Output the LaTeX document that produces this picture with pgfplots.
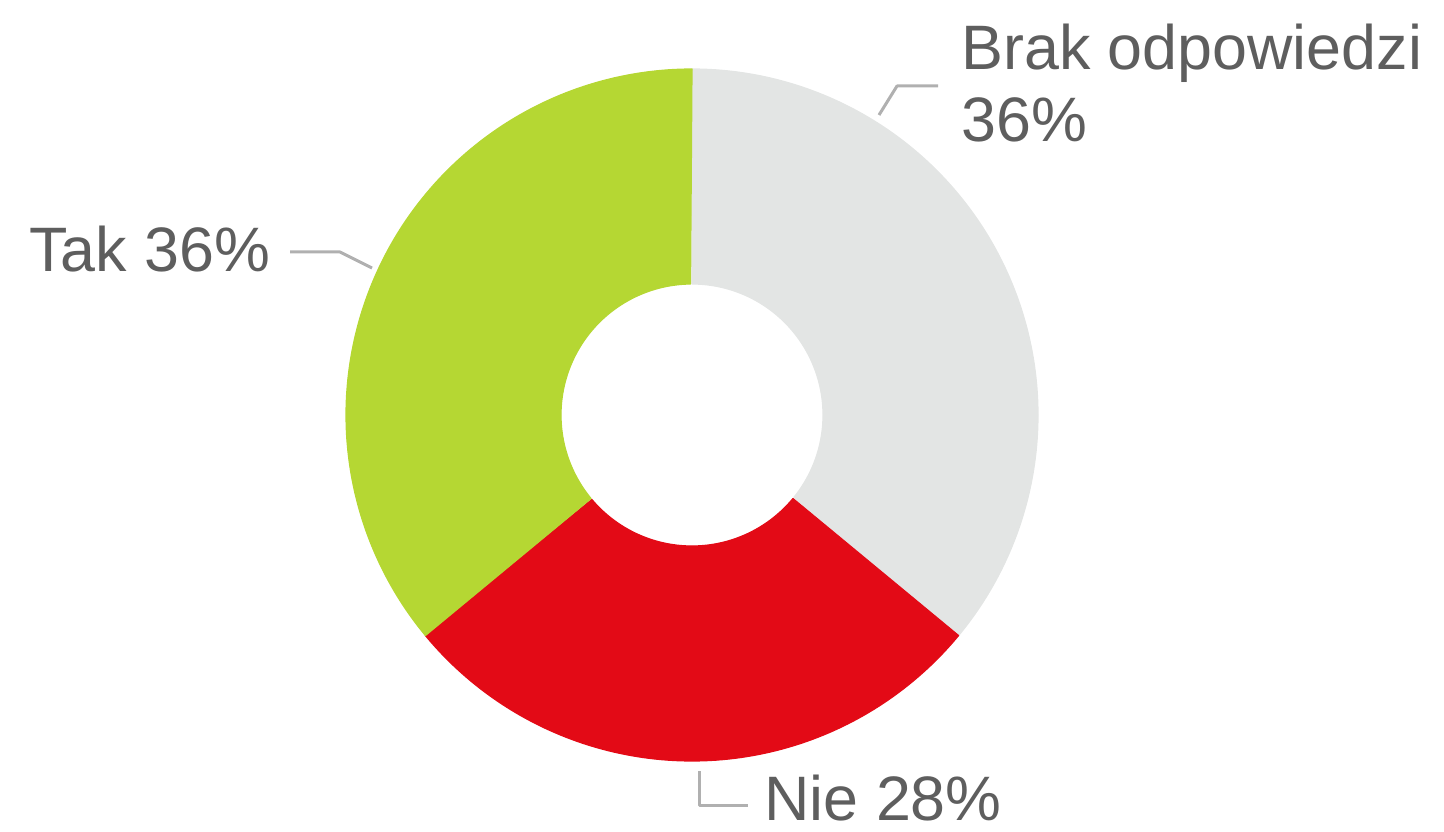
\documentclass[border=0pt]{standalone}
\usepackage{pgfplots}
\usepackage{pgfplotstable}
\pgfplotsset{compat=1.18}
\usepackage{fontspec}
\setmainfont{Liberation Sans}
\definecolor{cBrak}{HTML}{E3E5E4}
\definecolor{cNie}{HTML}{E30A16}
\definecolor{cTak}{HTML}{B5D733}
\definecolor{cText}{HTML}{5E5E5E}
\definecolor{cLead}{HTML}{B0B0B0}

\pgfplotstableread{
label value
Brak 36
Nie 28
Tak 36
}\shares

\pgfplotstablegetelem{0}{value}\of\shares \let\vBrak\pgfplotsretval
\pgfplotstablegetelem{1}{value}\of\shares \let\vNie\pgfplotsretval
\pgfplotstablegetelem{2}{value}\of\shares \let\vTak\pgfplotsretval

\pgfmathsetmacro{\aA}{90}
\pgfmathsetmacro{\aB}{90-3.6*\vBrak}
\pgfmathsetmacro{\aC}{\aB-3.6*\vNie}
\pgfmathsetmacro{\aD}{\aC-3.6*\vTak}

\def\cx{692}
\def\cy{416}
\def\Ro{346}
\def\Ri{131}

% ring segment from angle #1 to #2
\newcommand{\ring}[3]{%
  \addplot[fill=#3, draw=#3, line width=0.6pt, line join=round, domain=0:2, samples=401, variable=\t]
  ({\cx+ifthenelse(\t<=1, \Ro*cos(#1+(#2-#1)*\t), \Ri*cos(#2-(#2-#1)*(\t-1)))},
   {\cy+ifthenelse(\t<=1, \Ro*sin(#1+(#2-#1)*\t), \Ri*sin(#2-(#2-#1)*(\t-1)))}) -- cycle;
}

\begin{document}
\begin{tikzpicture}
\begin{axis}[
  x=0.5pt, y=0.5pt,
  xmin=0, xmax=1444, ymin=0, ymax=831,
  hide axis, clip=false,
  scale only axis,
]
\path[draw=none] (axis cs:0,0) rectangle (axis cs:1444,831);
\ring{\aA}{\aB}{cBrak}
\ring{\aB}{\aC}{cNie}
\ring{\aC}{\aD}{cTak}

\addplot[cLead, line width=1.5pt, line join=round] coordinates {(938,745) (897,745) (879,716)};
\addplot[cLead, line width=1.5pt, line join=round] coordinates {(290,579) (340,579) (372,563)};
\addplot[cLead, line width=1.5pt, line join=round] coordinates {(699,60) (699,26) (748,26)};

\begin{scope}[every node/.style={inner sep=0pt, anchor=base west, text=cText, font=\fontsize{31.4}{36}\selectfont}]
\node at (axis cs:961,761) {Brak odpowiedzi};
\node at (axis cs:961,689) {36\%};
\node at (axis cs:29,559) {Tak 36\%};
\node at (axis cs:764,11) {Nie 28\%};
\end{scope}
\end{axis}
\end{tikzpicture}
\end{document}
